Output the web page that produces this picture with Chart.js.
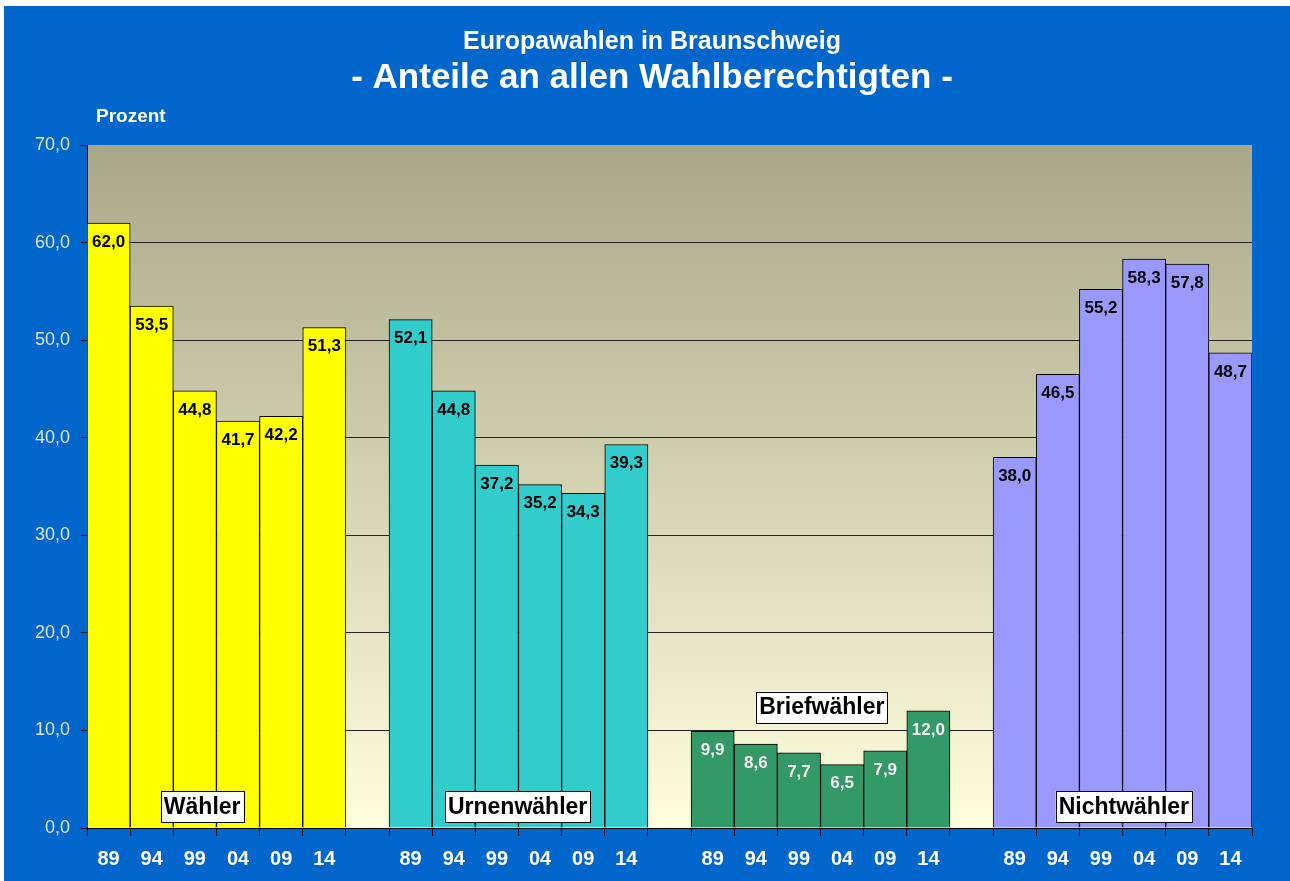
<!DOCTYPE html>
<html>
<head>
<meta charset="utf-8">
<script src="https://cdn.jsdelivr.net/npm/chart.js@4.4.1/dist/chart.umd.min.js"></script>
<style>
  body { margin: 0; background: #fff; }
  #box { position: absolute; left: 4px; top: 6px; width: 1286px; height: 875px; background: #0066cc; }
</style>
</head>
<body>
<div id="box"><canvas id="myChart1"></canvas></div>
<script>
const years = ["89", "94", "99", "04", "09", "14"];
const groups = ["Wähler", "Urnenwähler", "Briefwähler", "Nichtwähler"];
const waehler = [62.0, 53.5, 44.8, 41.7, 42.2, 51.3];
const urnenwaehler = [52.1, 44.8, 37.2, 35.2, 34.3, 39.3];
const briefwaehler = [9.9, 8.6, 7.7, 6.5, 7.9, 12.0];
const nichtwaehler = [38.0, 46.5, 55.2, 58.3, 57.8, 48.7];
const yTicks = [0, 10, 20, 30, 40, 50, 60, 70];

const groupColors = ["#ffff00", "#33cccc", "#339966", "#9999ff"];
const valueColors = ["#000", "#000", "#f4f4f4", "#000"];
// where the group name boxes sit: [category index, y value]
const groupLabelPos = [[2.17, 2.2], [9.48, 2.2], [16.53, 12.4], [23.53, 2.2]];

// build one flat series with an empty slot between groups
const series = [waehler, urnenwaehler, briefwaehler, nichtwaehler];
const labels = [], values = [], colors = [], txtColors = [];
series.forEach((s, g) => {
  if (g > 0) { labels.push(""); values.push(null); colors.push("rgba(0,0,0,0)"); txtColors.push("#000"); }
  s.forEach((v, i) => {
    labels.push(years[i]);
    values.push(v);
    colors.push(groupColors[g]);
    txtColors.push(valueColors[g]);
  });
});

const fmt = v => v.toFixed(1).replace(".", ",");
const FONT = "'Liberation Sans', Arial, sans-serif";

const bgPlugin = {
  id: "bg",
  beforeDraw(chart) {
    const { ctx, chartArea: a } = chart;
    const g = ctx.createLinearGradient(0, a.top, 0, a.bottom);
    g.addColorStop(0, "rgb(168,168,136)");
    g.addColorStop(1, "rgb(255,255,222)");
    ctx.save();
    ctx.fillStyle = g;
    ctx.fillRect(a.left, a.top, a.right - a.left, a.bottom - a.top);
    ctx.restore();
  },
};

const textPlugin = {
  id: "texts",
  afterDatasetsDraw(chart) {
    const { ctx } = chart;
    const meta = chart.getDatasetMeta(0);
    const xs = chart.scales.x, ys = chart.scales.y;
    ctx.save();
    // values inside bar tops
    ctx.font = "bold 17px " + FONT;
    ctx.textAlign = "center";
    ctx.textBaseline = "middle";
    meta.data.forEach((bar, i) => {
      const v = values[i];
      if (v == null) return;
      ctx.fillStyle = txtColors[i];
      ctx.fillText(fmt(v), bar.x, bar.y + 19);
    });
    // group name boxes
    const cw = (xs.right - xs.left) / labels.length;
    ctx.font = "bold 23px " + FONT;
    groups.forEach((name, g) => {
      const [ci, yv] = groupLabelPos[g];
      const cx = xs.left + (ci + 0.5) * cw;
      const cy = ys.getPixelForValue(yv);
      const w = ctx.measureText(name).width + 6;
      const h = 31;
      ctx.fillStyle = "#fff";
      ctx.fillRect(cx - w / 2, cy - h / 2, w, h);
      ctx.strokeStyle = "#000";
      ctx.lineWidth = 1;
      ctx.strokeRect(Math.round(cx - w / 2) + 0.5, Math.round(cy - h / 2) + 0.5, Math.round(w), h);
      ctx.fillStyle = "#000";
      ctx.fillText(name, cx, cy + 1);
    });
    // titles
    ctx.fillStyle = "#fff";
    ctx.font = "bold 25px " + FONT;
    ctx.fillText("Europawahlen in Braunschweig", 648, 36);
    ctx.font = "bold 35px " + FONT;
    ctx.fillText("- Anteile an allen Wahlberechtigten -", 648, 72);
    ctx.font = "bold 19px " + FONT;
    ctx.textAlign = "left";
    ctx.fillText("Prozent", 92, 111);
    ctx.restore();
  },
};

const ctx = document.getElementById("myChart1");

new Chart(ctx, {
  type: "bar",
  data: {
    labels: labels,
    datasets: [
      {
        data: values,
        backgroundColor: colors,
        borderColor: "#000",
        borderWidth: 1,
        borderSkipped: "bottom",
        barPercentage: 1,
        categoryPercentage: 1,
      },
    ],
  },
  options: {
    responsive: true,
    maintainAspectRatio: false,
    animation: false,
    layout: { padding: { top: 139, right: 38, left: 0, bottom: 0 } },
    plugins: {
      legend: { display: false },
      tooltip: { enabled: false },
    },
    scales: {
      x: {
        offset: true,
        afterFit: (s) => { s.height = 53; },
        grid: {
          offset: true,
          drawOnChartArea: false,
          drawTicks: true,
          tickLength: 8,
          color: "#000",
        },
        border: { color: "#000", width: 1 },
        ticks: {
          color: "#fff",
          padding: 11,
          autoSkip: false,
          maxRotation: 0,
          font: { family: FONT, size: 20, weight: "bold" },
        },
      },
      y: {
        min: 0,
        max: 70,
        afterFit: (s) => { s.width = 83; },
        afterBuildTicks: (s) => { s.ticks = yTicks.map(v => ({ value: v })); },
        grid: {
          color: (c) => (c.tick && c.tick.value === 70 ? "rgba(0,0,0,0)" : "#222"),
          tickColor: "#000",
          tickLength: 6,
          lineWidth: 1,
        },
        border: { color: "#000", width: 1 },
        ticks: {
          color: "#dce6f5",
          padding: 11,
          callback: (v) => fmt(v),
          font: { family: FONT, size: 18 },
        },
      },
    },
  },
  plugins: [bgPlugin, textPlugin],
});
</script>
</body>
</html>
